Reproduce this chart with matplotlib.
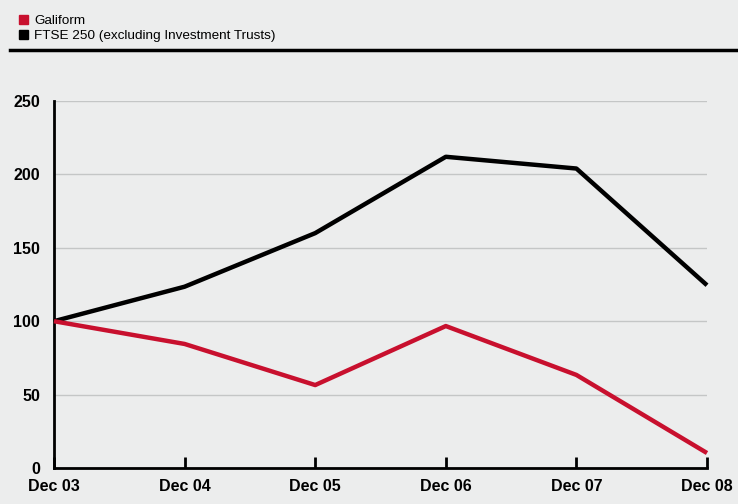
import matplotlib.pyplot as plt
from matplotlib.lines import Line2D
from matplotlib.patches import Rectangle

years = ["Dec 03", "Dec 04", "Dec 05", "Dec 06", "Dec 07", "Dec 08"]
galiform = [100, 84.5, 56.5, 96.7, 63.4, 10.2]
ftse250 = [100, 123.5, 160, 212, 204, 124.5]
y_ticks = [0, 50, 100, 150, 200, 250]

BG = "#eceded"
RED = "#c8102e"

plt.rcParams["font.family"] = ["Liberation Sans", "DejaVu Sans"]

fig = plt.figure(figsize=(7.38, 5.04), dpi=100, facecolor=BG)
ax = fig.add_axes([54 / 738, 1 - 468 / 504, (707 - 54) / 738, (468 - 101) / 504])
ax.set_facecolor(BG)

x = list(range(len(years)))
ax.plot(x, ftse250, color="black", lw=3.2, solid_capstyle="butt", zorder=3, clip_on=False)
ax.plot(x, galiform, color=RED, lw=3.2, solid_capstyle="butt", zorder=3, clip_on=False)

ax.set_xlim(0, len(years) - 1)
ax.set_ylim(0, 250)
ax.set_yticks(y_ticks)
ax.set_xticks(x)
ax.set_xticklabels(years, fontsize=11.5, fontweight="bold")
ax.set_yticklabels([str(v) for v in y_ticks], fontsize=11.5, fontweight="bold")
ax.grid(axis="y", color="#c4c6c6", lw=1)
ax.set_axisbelow(True)

for side in ["top", "right"]:
    ax.spines[side].set_visible(False)
for side in ["left", "bottom"]:
    ax.spines[side].set_linewidth(2)
ax.tick_params(axis="x", direction="in", length=8, width=2, pad=8)
ax.tick_params(axis="y", length=0, pad=10)

# Legend and rule at the top
fig.add_artist(Line2D([10 / 738, 1], [1 - 50 / 504] * 2, color="black", lw=2.5,
                      transform=fig.transFigure))
for i, (label, color) in enumerate([("Galiform", RED),
                                    ("FTSE 250 (excluding Investment Trusts)", "black")]):
    yc = 19.5 + 15 * i
    fig.add_artist(Rectangle((19 / 738, 1 - (yc + 4.5) / 504), 9 / 738, 9 / 504,
                             color=color, transform=fig.transFigure))
    fig.text(34 / 738, 1 - (yc + 4.5) / 504, label, fontsize=9.7, va="baseline")

fig.savefig("out.png", dpi=100, facecolor=BG)
